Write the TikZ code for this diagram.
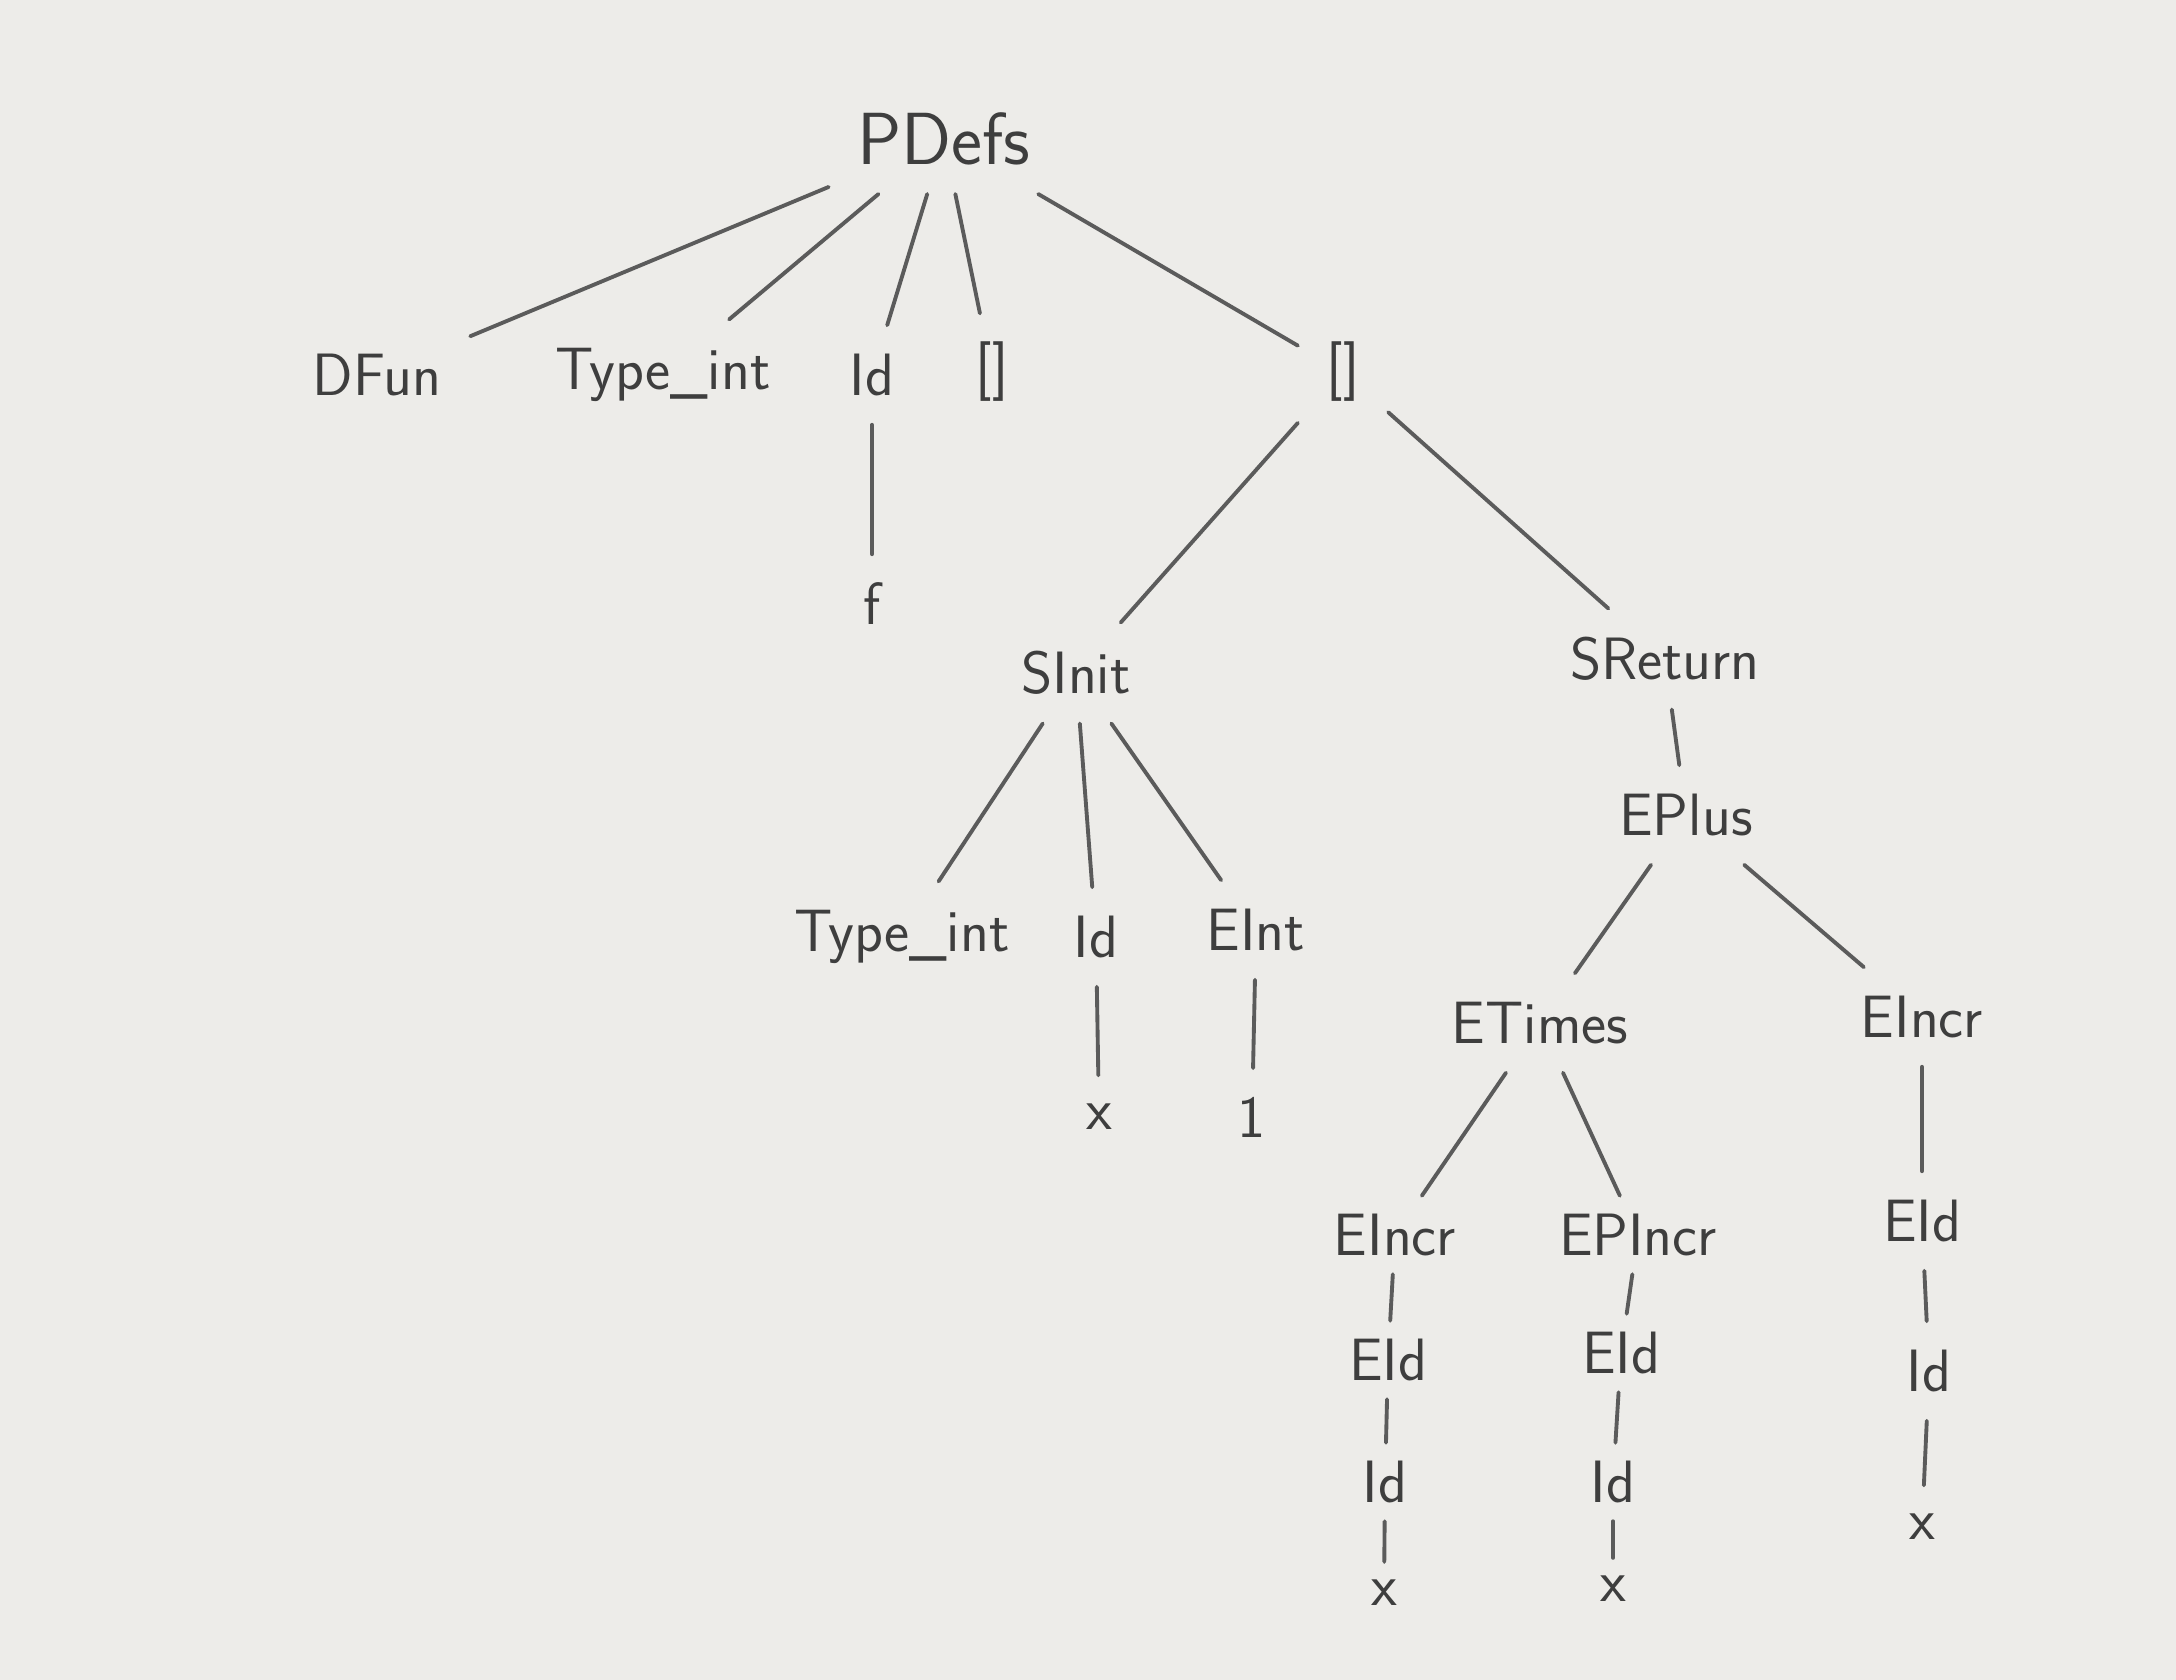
\documentclass[tikz,border=0pt]{standalone}
\usetikzlibrary{positioning}
\definecolor{paper}{RGB}{237,236,233}
\definecolor{pencil}{RGB}{62,62,62}
\tikzset{
  lbl/.style={inner sep=8pt, text=pencil, font=\sffamily\fontsize{17}{20}\selectfont},
  tightlbl/.style={lbl, inner sep=5pt},
  rootlbl/.style={lbl, font=\sffamily\fontsize{21}{24}\selectfont},
  edge/.style={draw=pencil!85, line width=1.1pt, line cap=round}
}

\begin{document}
\begin{tikzpicture}[x=0.01cm, y=-0.01cm]

  % === Fond : la feuille ===
  \fill[paper] (0,0) rectangle (2176,1680);

  % === Racine et premier niveau ===
  \node[rootlbl] (pdefs) at (944,139) {PDefs};

  \node[lbl] (dfun)  at (377,375)  {DFun};
  \node[lbl] (tint)  at (663,375)  {Type\_int};
  \node[lbl] (fid)   at (872,375)  {Id};
  \node[lbl] (args)  at (992,372)  {[]};
  \node[lbl] (body)  at (1343,372) {[]};
  \node[lbl] (fname) at (872,604)  {f};

  % === Instructions ===
  \node[lbl] (sinit) at (1076,673) {SInit};
  \node[lbl] (sret)  at (1665,659) {SReturn};

  \node[lbl] (tint2) at (902,937)  {Type\_int};
  \node[lbl] (xid)   at (1096,937) {Id};
  \node[lbl] (eint)  at (1256,930) {EInt};
  \node[lbl] (xname) at (1099,1117) {x};
  \node[lbl] (one)   at (1252,1117) {1};

  % === Expression de retour ===
  \node[lbl] (eplus)  at (1686,815)  {EPlus};
  \node[lbl] (etimes) at (1540,1023) {ETimes};
  \node[lbl] (eincr)  at (1922,1017) {EIncr};

  \node[tightlbl] (eincrA) at (1395,1235) {EIncr};
  \node[tightlbl] (epincr) at (1638,1235) {EPIncr};
  \node[lbl]      (eidC)   at (1922,1221) {EId};

  \node[tightlbl] (eidA) at (1388,1360) {EId};
  \node[tightlbl] (eidB) at (1621,1353) {EId};
  \node[lbl]      (idC)  at (1929,1371) {Id};

  \node[tightlbl] (idA) at (1385,1482) {Id};
  \node[tightlbl] (idB) at (1613,1482) {Id};
  \node[lbl]      (xC)  at (1922,1527) {x};

  \node[tightlbl] (xA) at (1384,1593) {x};
  \node[tightlbl] (xB) at (1613,1589) {x};

  % === Aretes ===
  \foreach \a/\b in {pdefs/dfun, pdefs/tint, pdefs/fid, pdefs/args, pdefs/body,
                     fid/fname, body/sinit, body/sret,
                     sinit/tint2, sinit/xid, sinit/eint, xid/xname, eint/one,
                     sret/eplus, eplus/etimes, eplus/eincr,
                     etimes/eincrA, etimes/epincr, eincr/eidC,
                     eincrA/eidA, epincr/eidB, eidC/idC,
                     eidA/idA, eidB/idB, idC/xC, idA/xA, idB/xB} {
    \draw[edge] (\a) -- (\b);
  }

\end{tikzpicture}
\end{document}
